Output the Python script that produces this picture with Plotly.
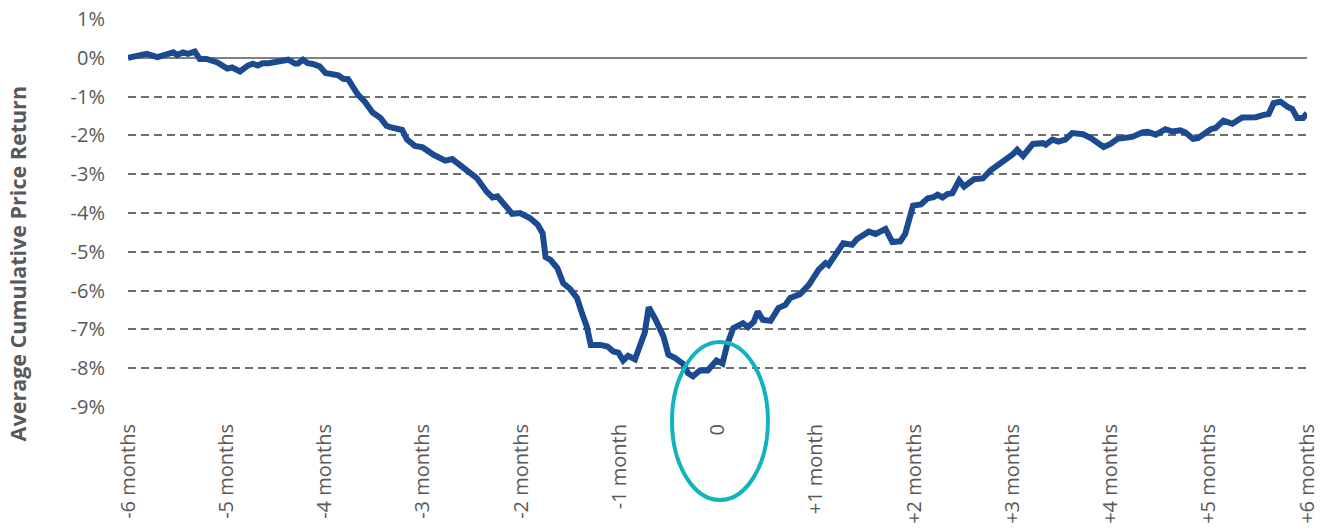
import plotly.graph_objects as go

# Months relative to the event date (0) and average cumulative price return (%)
months = [
    -6.00, -5.91, -5.81, -5.70, -5.62, -5.54, -5.50, -5.44, -5.39, -5.32,
    -5.27, -5.20, -5.09, -4.99, -4.94, -4.86, -4.78, -4.73, -4.68, -4.63,
    -4.57, -4.48, -4.42, -4.37, -4.30, -4.27, -4.22, -4.17, -4.12, -4.05,
    -3.99, -3.91, -3.86, -3.81, -3.76, -3.66, -3.59, -3.51, -3.43, -3.37,
    -3.33, -3.21, -3.16, -3.08, -3.00, -2.89, -2.77, -2.70, -2.62, -2.54,
    -2.45, -2.35, -2.29, -2.24, -2.16, -2.09, -2.01, -1.91, -1.83, -1.78,
    -1.75, -1.70, -1.63, -1.57, -1.50, -1.43, -1.38, -1.33, -1.29, -1.19,
    -1.12, -1.06, -1.01, -0.96, -0.91, -0.84, -0.74, -0.70, -0.63, -0.55,
    -0.50, -0.43, -0.35, -0.30, -0.25, -0.18, -0.10, -0.01, 0.05, 0.10,
    0.16, 0.26, 0.31, 0.37, 0.41, 0.46, 0.54, 0.62, 0.69, 0.74,
    0.84, 0.93, 1.03, 1.10, 1.13, 1.20, 1.28, 1.37, 1.42, 1.54,
    1.61, 1.71, 1.78, 1.86, 1.91, 1.99, 2.07, 2.14, 2.20, 2.24,
    2.29, 2.34, 2.39, 2.46, 2.51, 2.61, 2.70, 2.78, 2.85, 2.93,
    3.00, 3.05, 3.11, 3.21, 3.31, 3.34, 3.41, 3.47, 3.54, 3.61,
    3.72, 3.80, 3.93, 4.00, 4.07, 4.22, 4.33, 4.38, 4.46, 4.56,
    4.63, 4.71, 4.76, 4.84, 4.89, 5.02, 5.07, 5.15, 5.24, 5.34,
    5.48, 5.56, 5.61, 5.66, 5.73, 5.80, 5.85, 5.90, 5.96, 6.00,
]
avg_return = [
    0.00, 0.03, 0.10, 0.02, 0.07, 0.14, 0.07, 0.14, 0.10, 0.16,
    -0.03, -0.03, -0.12, -0.28, -0.25, -0.35, -0.20, -0.15, -0.20, -0.14,
    -0.14, -0.09, -0.04, -0.05, -0.15, -0.15, -0.05, -0.14, -0.16, -0.22,
    -0.39, -0.43, -0.45, -0.54, -0.55, -0.95, -1.13, -1.41, -1.55, -1.75,
    -1.79, -1.86, -2.11, -2.27, -2.31, -2.50, -2.65, -2.61, -2.76, -2.89,
    -3.10, -3.45, -3.60, -3.57, -3.79, -4.02, -4.00, -4.13, -4.30, -4.52,
    -5.14, -5.21, -5.42, -5.81, -5.96, -6.19, -6.58, -6.93, -7.40, -7.40,
    -7.44, -7.57, -7.60, -7.80, -7.68, -7.77, -7.08, -6.43, -6.75, -7.18,
    -7.65, -7.74, -7.89, -8.13, -8.21, -8.06, -8.06, -7.80, -7.88, -7.38,
    -6.97, -6.84, -6.94, -6.80, -6.54, -6.75, -6.78, -6.45, -6.37, -6.19,
    -6.09, -5.85, -5.46, -5.29, -5.34, -5.10, -4.78, -4.82, -4.67, -4.48,
    -4.54, -4.41, -4.75, -4.73, -4.54, -3.81, -3.78, -3.62, -3.59, -3.53,
    -3.60, -3.51, -3.49, -3.16, -3.32, -3.13, -3.11, -2.90, -2.77, -2.65,
    -2.50, -2.37, -2.53, -2.22, -2.20, -2.24, -2.11, -2.16, -2.11, -1.94,
    -1.97, -2.07, -2.30, -2.22, -2.09, -2.04, -1.92, -1.91, -1.98, -1.84,
    -1.90, -1.87, -1.92, -2.09, -2.07, -1.84, -1.81, -1.62, -1.70, -1.54,
    -1.53, -1.47, -1.45, -1.17, -1.13, -1.26, -1.32, -1.55, -1.55, -1.43,
]

tick_months = [-6, -5, -4, -3, -2, -1, 0, 1, 2, 3, 4, 5, 6]
tick_labels = [
    "-6 months", "-5 months", "-4 months", "-3 months", "-2 months",
    "-1 month", "0", "+1 month", "+2 months", "+3 months", "+4 months",
    "+5 months", "+6 months",
]
y_ticks = [1, 0, -1, -2, -3, -4, -5, -6, -7, -8, -9]
y_labels = [f"{v}%" for v in y_ticks]

LINE_BLUE = "#1B4A90"
TEAL = "#12B3BE"
TEXT_GRAY = "#595959"
GRID_GRAY = "#6E6E6E"
TICK_FONT = dict(family="Open Sans, sans-serif", size=20, color=TEXT_GRAY)

fig = go.Figure()
fig.add_trace(go.Scatter(
    x=months, y=avg_return, mode="lines",
    line=dict(color=LINE_BLUE, width=6),
    hoverinfo="skip", showlegend=False,
))

fig.update_layout(
    width=1328, height=529,
    margin=dict(l=128, r=21, t=19, b=122),
    paper_bgcolor="white", plot_bgcolor="white",
    font=dict(family="Open Sans, sans-serif", size=20, color=TEXT_GRAY),
    showlegend=False,
)
fig.update_xaxes(
    range=[-6, 6], tickmode="array", tickvals=tick_months, ticktext=tick_labels,
    tickangle=-90, showgrid=False, zeroline=False, showline=False,
    ticks="", ticklabelstandoff=12, automargin=False,
    tickfont=TICK_FONT,
)
fig.update_yaxes(
    range=[-9, 1], tickmode="array", tickvals=y_ticks, ticktext=y_labels,
    showgrid=True, gridcolor=GRID_GRAY, gridwidth=1.5, griddash="8px,5px",
    zeroline=True, zerolinecolor="#808080", zerolinewidth=1.6,
    showline=False, ticks="", ticklabelstandoff=22, automargin=False,
    tickfont=TICK_FONT,
)

# Vertical axis title
fig.add_annotation(
    text="<b>Average Cumulative Price Return</b>",
    xref="paper", yref="paper", x=-0.094, y=0.368,
    textangle=-90, showarrow=False, xanchor="center", yanchor="middle",
    font=dict(family="Open Sans, sans-serif", size=21.5, color=TEXT_GRAY),
)

# Highlight ring around the event date
fig.add_shape(
    type="circle", xref="paper", yref="paper",
    x0=0.4614, x1=0.5428, y0=-0.2397, y1=0.1675,
    line=dict(color=TEAL, width=4), fillcolor="rgba(0,0,0,0)",
)

fig.write_html("out.html")
